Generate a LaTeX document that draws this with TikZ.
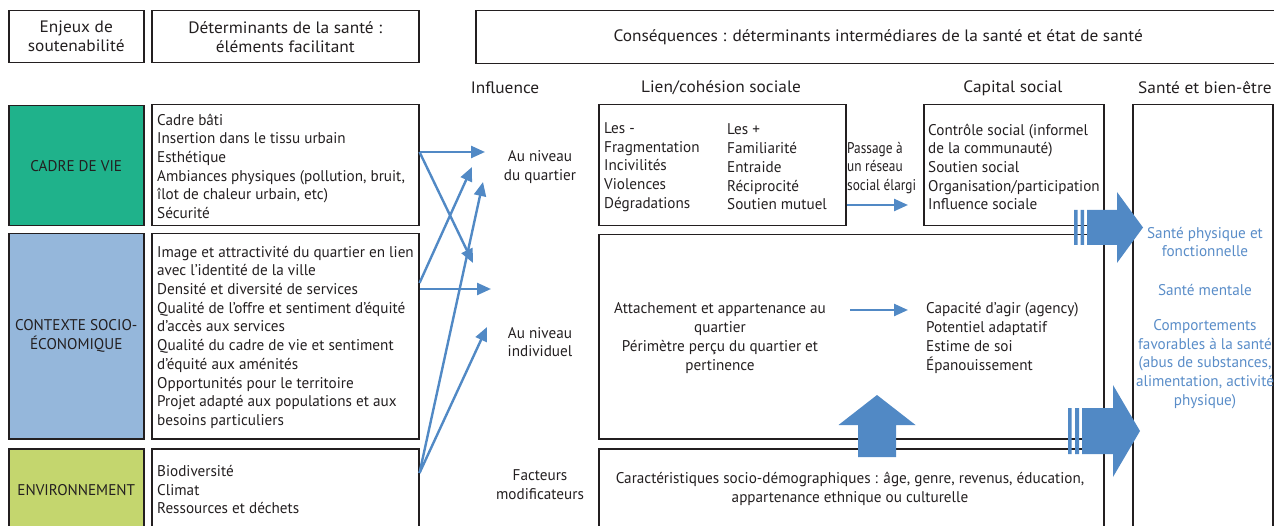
\documentclass[tikz,border=0pt]{standalone}
\usepackage{fontspec}
\setmainfont{PT Sans}[FakeStretch=0.98]
\newfontfamily\narrowfont{PT Sans}[FakeStretch=0.86]
\newfontfamily\headfont{PT Sans}[FakeStretch=1.05]
\usepackage{tikz}
\usetikzlibrary{arrows.meta,positioning,calc}
\definecolor{ink}{HTML}{231F20}
\definecolor{vieGreen}{HTML}{1FB28B}
\definecolor{socioBlue}{HTML}{95B7DB}
\definecolor{envGreen}{HTML}{C4D66E}
\definecolor{flowBlue}{HTML}{5189C5}
\definecolor{santeBlue}{HTML}{5A8DC8}
\tikzset{
  txt/.style={font=\fontsize{15.5}{18.7}\selectfont, text=ink, inner sep=0pt},
  headtxt/.style={font=\headfont\fontsize{16.5}{19}\selectfont, text=ink, inner sep=0pt, align=center},
  box/.style={draw=ink, line width=1.5pt, inner sep=0pt, anchor=north west},
  enjeu/.style={box, txt, align=center, minimum width=135pt},
  detbox/.style={box, minimum width=267pt},
  head/.style={txt, align=center},
  list/.style={txt, align=left, anchor=west},
  santetxt/.style={txt, text=santeBlue, align=center},
  flow/.style={-{Triangle[length=14pt,width=12pt]}, draw=flowBlue, line width=2.4pt},
  blockarrow/.style={fill=flowBlue, draw=none}
}

\begin{document}
\begin{tikzpicture}[x=1pt, y=-1pt]
\useasboundingbox (0,0) rectangle (1274,526);
\clip (0,0) rectangle (1274,526);

\node[box, headtxt, minimum width=135pt, minimum height=52pt] (enjeux) at (8,10) {Enjeux de\\soutenabilité};
\node[box, headtxt, minimum width=267pt, minimum height=52pt] (determ) at (151,10) {Déterminants de la santé :\\éléments facilitant};
\node[box, headtxt, minimum width=805pt, minimum height=53pt] (conseq) at (475,10) {Conséquences : déterminants intermédiares de la santé et état de santé};

\node[headtxt] (influence) at (505,88) {Influence};
\node[headtxt] (liencap) at (721,88) {Lien/cohésion sociale};
\node[headtxt] (capcap) at (1013,88) {Capital social};
\node[headtxt] (santecap) at (1205,88) {Santé et bien-être};

\node[enjeu, fill=vieGreen, minimum height=120pt] (vie) at (8,105) {CADRE DE VIE};
\node[enjeu, fill=socioBlue, minimum height=205pt] (socio) at (8,233) {CONTEXTE SOCIO-\\ÉCONOMIQUE};
\node[enjeu, fill=envGreen, minimum height=82pt] (env) at (8,448) {ENVIRONNEMENT};

\node[detbox, minimum height=121pt] (det1) at (151,104) {};
\node[detbox, minimum height=205pt] (det2) at (151,233) {};
\node[detbox, minimum height=82pt] (det3) at (151,448) {};
\node[list] (det1txt) at ([xshift=6pt, yshift=-1pt]det1.west) {Cadre bâti\\Insertion dans le tissu urbain\\Esthétique\\Ambiances physiques (pollution, bruit,\\îlot de chaleur urbain, etc)\\Sécurité};
\node[list] (det2txt) at ([xshift=6pt, yshift=-1pt]det2.west) {Image et attractivité du quartier en lien\\avec l’identité de la ville\\Densité et diversité de services\\Qualité de l’offre et sentiment d’équité\\d’accès aux services\\Qualité du cadre de vie et sentiment\\d’équité aux aménités\\Opportunités pour le territoire\\Projet adapté aux populations et aux\\besoins particuliers};
\node[list] (det3txt) at ([xshift=6pt]det3.west) {Biodiversité\\Climat\\Ressources et déchets};

\node[head] (quartier) at (540,167) {Au niveau\\du quartier};
\node[head] (individuel) at (540,342) {Au niveau\\individuel};
\node[head] (facteurs) at (540,485) {Facteurs\\modificateurs};

\node[box, minimum width=247pt, minimum height=121pt] (lien) at (598,104) {};
\node[list] (moins) at (604,167) {Les -\\Fragmentation\\Incivilités\\Violences\\Dégradations};
\node[list] (plus) at (727,167) {Les +\\Familiarité\\Entraide\\Réciprocité\\Soutien mutuel};
\node[list, font=\narrowfont\fontsize{15.5}{18.7}\selectfont] (passage) at (847,168) {Passage à\\un réseau\\social élargi};

\node[box, minimum width=180pt, minimum height=121pt] (capital) at (923,104) {};
\node[list] (captxt) at (928,167) {Contrôle social (informel\\de la communauté)\\Soutien social\\Organisation/participation\\Influence sociale};

\node[box, minimum width=505pt, minimum height=204pt] (indiv) at (598,234) {};
\node[head] (attach) at (720,338) {Attachement et appartenance au\\quartier\\Périmètre perçu du quartier et\\pertinence};
\node[list] (agir) at (926,338) {Capacité d’agir (agency)\\Potentiel adaptatif\\Estime de soi\\Épanouissement};

\node[box, minimum width=505pt, minimum height=82pt] (carac) at (598,448) {};
\node[head] (caractxt) at (850,489) {Caractéristiques socio-démographiques : âge, genre, revenus, éducation,\\appartenance ethnique ou culturelle};

\node[box, minimum width=140pt, minimum height=440pt] (sante) at (1132,104) {};
\node[santetxt] (physique) at (1205,242) {Santé physique et\\fonctionnelle};
\node[santetxt] (mentale) at (1205,290) {Santé mentale};
\node[santetxt] (comport) at (1205,364) {Comportements\\favorables à la santé\\(abus de substances,\\alimentation, activité\\physique)};

\coordinate (q1) at (485,152);
\coordinate (q2) at (472,167);
\coordinate (q3) at (483,182);
\coordinate (i1) at (473,263);
\coordinate (i2) at (491,289);
\coordinate (i3) at (487,327);
\draw[flow] ($(det1.north east)+(0,48)$) -- (q1);
\draw[flow] ($(det1.north east)+(0,48)$) -- (i1);
\draw[flow] ($(det2.north east)+(0,50)$) -- (q2);
\draw[flow] ($(det2.north east)+(0,56)$) -- (i2);
\draw[flow] ($(det3.north east)+(0,25)$) -- (q3);
\draw[flow] ($(det3.north east)+(0,25)$) -- (i3);

\coordinate (capin) at (908,205);
\draw[flow] ($(lien.north east)+(0,101)$) -- (capin);
\coordinate (attachout) at (850,310);
\coordinate (agirin) at (908,310);
\draw[flow] (attachout) -- (agirin);

\fill[blockarrow] (1074,210) rectangle (1077.5,245) (1080.5,210) rectangle (1084,245);
\fill[blockarrow] (1087,210) -- (1117,210) -- (1117,192) -- (1143,227.5) -- (1117,263) -- (1117,245) -- (1087,245) -- cycle;
\fill[blockarrow] (1068,408) rectangle (1071.5,454) (1075,408) rectangle (1079,454);
\fill[blockarrow] (1082,408) -- (1113,408) -- (1113,385) -- (1140,431) -- (1113,477) -- (1113,454) -- (1082,454) -- cycle;
\fill[blockarrow] (858,457) -- (858,425) -- (838.5,425) -- (877,395) -- (915.5,425) -- (896,425) -- (896,457) -- cycle;
\end{tikzpicture}
\end{document}
